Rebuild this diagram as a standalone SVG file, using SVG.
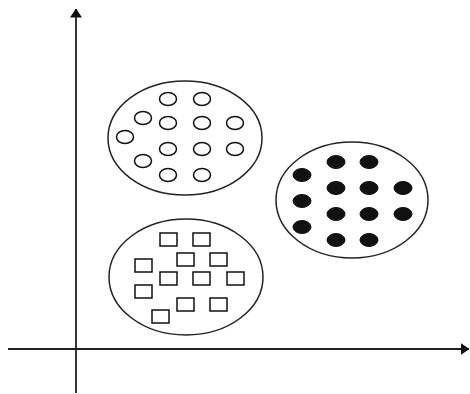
<svg xmlns="http://www.w3.org/2000/svg" width="470" height="394" viewBox="0 0 470 394">
<style>
.axis{stroke:#222;stroke-width:1.8;fill:none}
.cluster{fill:#fff;stroke:#222;stroke-width:1.5}
.o{fill:#fff;stroke:#111;stroke-width:1.5}
.d{fill:#111;stroke:#111;stroke-width:1}
.s{fill:#fff;stroke:#111;stroke-width:1.5}
</style>
<defs>
<marker id="ah" viewBox="0 0 9 12" refX="8.5" refY="6" markerWidth="9" markerHeight="12" markerUnits="userSpaceOnUse" orient="auto">
<path d="M0,0 L9,6 L0,12 z" fill="#111"/>
</marker>
</defs>
<g id="connectors">
<line class="axis" x1="76" y1="393" x2="76" y2="9" marker-end="url(#ah)"/>
<line class="axis" x1="8" y1="349" x2="469" y2="349" marker-end="url(#ah)"/>
</g>
<g id="cluster-circles">
<ellipse class="cluster" cx="185" cy="138" rx="77" ry="57"/>
<ellipse class="o" cx="168" cy="99" rx="8.5" ry="6.5"/>
<ellipse class="o" cx="202" cy="99" rx="8.5" ry="6.5"/>
<ellipse class="o" cx="143" cy="118" rx="8.5" ry="6.5"/>
<ellipse class="o" cx="168" cy="123" rx="8.5" ry="6.5"/>
<ellipse class="o" cx="202" cy="123" rx="8.5" ry="6.5"/>
<ellipse class="o" cx="235" cy="123" rx="8.5" ry="6.5"/>
<ellipse class="o" cx="125" cy="137" rx="8.5" ry="6.5"/>
<ellipse class="o" cx="168" cy="149" rx="8.5" ry="6.5"/>
<ellipse class="o" cx="202" cy="149" rx="8.5" ry="6.5"/>
<ellipse class="o" cx="235" cy="149" rx="8.5" ry="6.5"/>
<ellipse class="o" cx="143" cy="161" rx="8.5" ry="6.5"/>
<ellipse class="o" cx="168" cy="175" rx="8.5" ry="6.5"/>
<ellipse class="o" cx="202" cy="175" rx="8.5" ry="6.5"/>
</g>
<g id="cluster-squares">
<ellipse class="cluster" cx="186" cy="277" rx="77" ry="58"/>
<rect class="s" x="160" y="233" width="17" height="13"/>
<rect class="s" x="193" y="233" width="17" height="13"/>
<rect class="s" x="177" y="253" width="17" height="13"/>
<rect class="s" x="210" y="253" width="17" height="13"/>
<rect class="s" x="135" y="259" width="17" height="13"/>
<rect class="s" x="160" y="272" width="17" height="13"/>
<rect class="s" x="193" y="272" width="17" height="13"/>
<rect class="s" x="227" y="272" width="17" height="13"/>
<rect class="s" x="135" y="285" width="17" height="13"/>
<rect class="s" x="177" y="298" width="17" height="13"/>
<rect class="s" x="210" y="298" width="17" height="13"/>
<rect class="s" x="152" y="310" width="17" height="13"/>
</g>
<g id="cluster-dots">
<ellipse class="cluster" cx="352" cy="200" rx="76" ry="58"/>
<ellipse class="d" cx="336" cy="162" rx="9" ry="6.5"/>
<ellipse class="d" cx="369" cy="162" rx="9" ry="6.5"/>
<ellipse class="d" cx="302" cy="175" rx="9" ry="6.5"/>
<ellipse class="d" cx="336" cy="188" rx="9" ry="6.5"/>
<ellipse class="d" cx="369" cy="188" rx="9" ry="6.5"/>
<ellipse class="d" cx="403" cy="188" rx="9" ry="6.5"/>
<ellipse class="d" cx="302" cy="201" rx="9" ry="6.5"/>
<ellipse class="d" cx="336" cy="214" rx="9" ry="6.5"/>
<ellipse class="d" cx="369" cy="214" rx="9" ry="6.5"/>
<ellipse class="d" cx="403" cy="214" rx="9" ry="6.5"/>
<ellipse class="d" cx="302" cy="227" rx="9" ry="6.5"/>
<ellipse class="d" cx="336" cy="240" rx="9" ry="6.5"/>
<ellipse class="d" cx="369" cy="240" rx="9" ry="6.5"/>
</g>
</svg>
